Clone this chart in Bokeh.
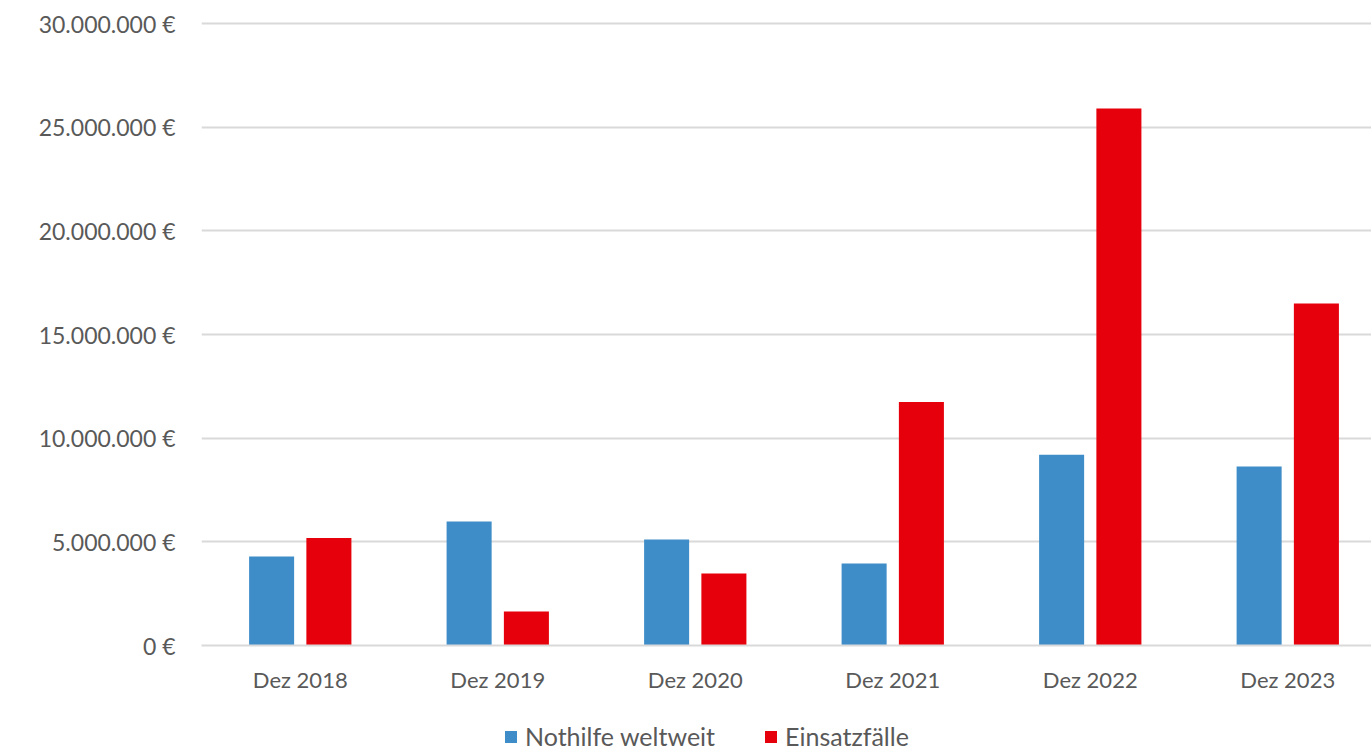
from bokeh.plotting import figure
from bokeh.layouts import column
from bokeh.models import ColumnDataSource, FixedTicker, Legend, LegendItem, Range1d
from bokeh.embed import file_html
from bokeh.resources import INLINE

categories = ["Dez 2018", "Dez 2019", "Dez 2020", "Dez 2021", "Dez 2022", "Dez 2023"]
nothilfe = [4290000, 5980000, 5110000, 3960000, 9200000, 8640000]
einsatz = [5190000, 1640000, 3470000, 11740000, 25900000, 16500000]
y_ticks = [0, 5000000, 10000000, 15000000, 20000000, 25000000, 30000000]
y_labels = ["0 €", "5.000.000 €", "10.000.000 €", "15.000.000 €", "20.000.000 €", "25.000.000 €", "30.000.000 €"]
series_names = ["Nothilfe weltweit", "Einsatzfälle"]

FONT = "Lato"
BLUE = "#3E8DC8"
RED = "#E5000B"
GRID = "#D9D9D9"
TXT = "#595959"

xs = list(range(len(categories)))
src = ColumnDataSource(dict(
    xb=[x - 0.145 for x in xs], xr=[x + 0.145 for x in xs],
    nothilfe=nothilfe, einsatz=einsatz))

p = figure(width=1371, height=700, output_backend="svg", toolbar_location=None,
           x_range=Range1d(-0.5, 5.424), y_range=Range1d(0, 30100000),
           min_border_left=201, min_border_right=0, min_border_top=21, min_border_bottom=55)
p.outline_line_color = None
p.background_fill_color = "white"
p.border_fill_color = "white"

rb = p.vbar(x="xb", top="nothilfe", width=0.228, source=src, fill_color=BLUE, line_color=None)
rr = p.vbar(x="xr", top="einsatz", width=0.228, source=src, fill_color=RED, line_color=None)

# y axis
p.yaxis.ticker = FixedTicker(ticks=y_ticks)
p.yaxis.major_label_overrides = {t: l for t, l in zip(y_ticks, y_labels)}
p.yaxis.axis_line_color = None
p.yaxis.major_tick_line_color = None
p.yaxis.minor_tick_line_color = None
p.yaxis.major_label_standoff = 20
p.yaxis.major_label_text_font = FONT
p.yaxis.major_label_text_font_size = "23px"
p.yaxis.major_label_text_color = TXT

# x axis
p.xaxis.ticker = FixedTicker(ticks=xs)
p.xaxis.major_label_overrides = {x: c for x, c in zip(xs, categories)}
p.xaxis.axis_line_color = GRID
p.xaxis.axis_line_width = 2
p.xaxis.major_tick_line_color = None
p.xaxis.minor_tick_line_color = None
p.xaxis.major_label_standoff = 14
p.xaxis.major_label_text_font = FONT
p.xaxis.major_label_text_font_size = "22px"
p.xaxis.major_label_text_color = TXT

p.xgrid.grid_line_color = None
p.ygrid.grid_line_color = GRID
p.ygrid.grid_line_width = 2
p.ygrid.ticker = FixedTicker(ticks=y_ticks)

# legend strip below the chart (its renderers are hidden, only the legend shows)
lf = figure(width=1371, height=51, output_backend="svg", toolbar_location=None,
            x_range=Range1d(-0.5, 5.424), y_range=Range1d(-2, -1),
            x_axis_location=None, y_axis_location=None,
            min_border_left=201, min_border_right=0, min_border_top=0, min_border_bottom=0)
lf.grid.visible = False
lf.outline_line_color = None
lf.background_fill_color = "white"
lf.border_fill_color = "white"
lb = lf.vbar(x="xb", top="nothilfe", width=0.228, source=src, fill_color=BLUE, line_color=None)
lr = lf.vbar(x="xr", top="einsatz", width=0.228, source=src, fill_color=RED, line_color=None)
lb.visible = False
lr.visible = False
legend = Legend(items=[LegendItem(label=series_names[0], renderers=[lb]),
                       LegendItem(label=series_names[1], renderers=[lr])],
                orientation="horizontal", location=(302, 0),
                glyph_width=15, glyph_height=15, label_standoff=7, spacing=48,
                padding=0, margin=0, border_line_color=None, background_fill_alpha=0,
                label_text_font=FONT, label_text_font_size="25px", label_text_color=TXT)
lf.add_layout(legend, "center")

layout = column(p, lf, spacing=0)
open("out.html", "w").write(file_html(layout, INLINE))
